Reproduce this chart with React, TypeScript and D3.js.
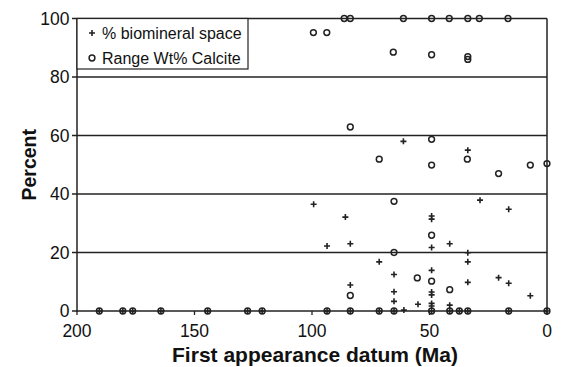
import React from "react";
import * as d3 from "d3";

// Ages (Ma) of taxa with 0% in both series
const zeroAges = [190.5, 180.5, 176.3, 164.3, 144.4, 127.4, 121.2, 93.6, 83.7, 71.4, 65.1, 49.1, 41.4, 37.3, 33.7, 16.3, 0];

// % biomineral space: [age Ma, percent]
const biomineral: [number, number][] = [
  [99.3, 36.5], [93.6, 22.2], [85.8, 32.1], [83.7, 23.0], [83.7, 8.9],
  [71.4, 16.8], [65.1, 12.5], [65.1, 6.6], [65.1, 3.3], [61.1, 58.0],
  [60.9, 0.3], [54.9, 2.3],
  [49.1, 32.5], [49.1, 31.4], [49.1, 21.7], [49.1, 13.9], [49.1, 6.5],
  [49.1, 5.5], [49.1, 2.6], [49.1, 1.7],
  [41.4, 23.0], [41.4, 2.0],
  [33.7, 55.0], [33.7, 19.9], [33.7, 16.8], [33.7, 9.8],
  [28.5, 37.9], [20.6, 11.4], [16.3, 34.8], [16.3, 9.5], [7.1, 5.2],
];

// Range Wt% Calcite: [age Ma, percent]
const calcite: [number, number][] = [
  [86.3, 100], [83.7, 100], [61.1, 100], [49.1, 100], [41.6, 100],
  [33.7, 100], [28.8, 100], [16.6, 100],
  [99.4, 95.2], [93.7, 95.2], [65.4, 88.5], [49.1, 87.6], [33.7, 86.0], [33.7, 87.0],
  [83.7, 62.9], [49.1, 58.7], [71.4, 51.9], [49.1, 49.9], [33.9, 51.9],
  [20.6, 47.0], [7.1, 49.9], [0, 50.4], [65.1, 37.5], [49.1, 25.9],
  [65.1, 20.0], [55.2, 11.3], [49.1, 10.2], [41.4, 7.3], [83.7, 5.3],
];

const xTicks = [200, 150, 100, 50, 0];
const yTicks = [0, 20, 40, 60, 80, 100];
const legendLabels = ["% biomineral space", "Range Wt% Calcite"];
const xLabel = "First appearance datum (Ma)";
const yLabel = "Percent";

const W = 561;
const H = 367;
const FONT = "'Liberation Sans', Arial, Helvetica, sans-serif";
const INK = "#222";

export default function App() {
  const x = d3.scaleLinear().domain([200, 0]).range([77, 547]);
  const y = d3.scaleLinear().domain([0, 100]).range([311, 18.5]);

  const plusAll: [number, number][] = [...biomineral, ...zeroAges.map((a) => [a, 0] as [number, number])];
  const circAll: [number, number][] = [...calcite, ...zeroAges.map((a) => [a, 0] as [number, number])];

  const plus = (cx: number, cy: number, k: string | number) => (
    <path key={k} d={`M${cx - 3},${cy}H${cx + 3}M${cx},${cy - 3}V${cy + 3}`} stroke={INK} strokeWidth={1.6} fill="none" />
  );
  const circ = (cx: number, cy: number, k: string | number) => (
    <circle key={k} cx={cx} cy={cy} r={2.9} stroke={INK} strokeWidth={1.5} fill="none" />
  );

  return (
    <svg width={W} height={H} style={{ position: "fixed", left: 0, top: 0, background: "#fff" }} fontFamily={FONT}>
      <rect x={0} y={0} width={W} height={H} fill="#fff" />
      {yTicks.map((t) => (
        <g key={t}>
          <line x1={72} x2={x(0)} y1={y(t)} y2={y(t)} stroke={INK} strokeWidth={1.4} />
          <text x={69.5} y={y(t)} dy="0.36em" textAnchor="end" fontSize={17.5} fill="#111">{t}</text>
        </g>
      ))}
      <line x1={x(200)} x2={x(200)} y1={y(100)} y2={y(0) + 1} stroke={INK} strokeWidth={1.5} />
      <line x1={x(0)} x2={x(0)} y1={y(100)} y2={y(0)} stroke={INK} strokeWidth={1.5} />
      {xTicks.map((t) => (
        <g key={t}>
          <line x1={x(t)} x2={x(t)} y1={y(0)} y2={y(0) + 4} stroke={INK} strokeWidth={1.3} />
          <text x={x(t)} y={336.5} textAnchor="middle" fontSize={17.5} fill="#111">{t}</text>
        </g>
      ))}
      <rect x={x(200)} y={y(100)} width={171} height={50.5} fill="#fff" stroke={INK} strokeWidth={1.2} />
      {plus(92, 33, "lp")}
      {circ(92, 58, "lc")}
      <text x={102} y={33} dy="0.36em" fontSize={16} fill="#111">{legendLabels[0]}</text>
      <text x={102} y={58} dy="0.36em" fontSize={16} fill="#111">{legendLabels[1]}</text>
      {circAll.map(([a, v], i) => circ(x(a), y(v), "c" + i))}
      {plusAll.map(([a, v], i) => plus(x(a), y(v), "p" + i))}
      <text x={(x(200) + x(0)) / 2 + 3} y={362} textAnchor="middle" fontSize={21} fontWeight="bold" fill="#111">{xLabel}</text>
      <text transform={`translate(36,${(y(0) + y(100)) / 2}) rotate(-90)`} textAnchor="middle" fontSize={19.5} fontWeight="bold" fill="#111">{yLabel}</text>
    </svg>
  );
}
